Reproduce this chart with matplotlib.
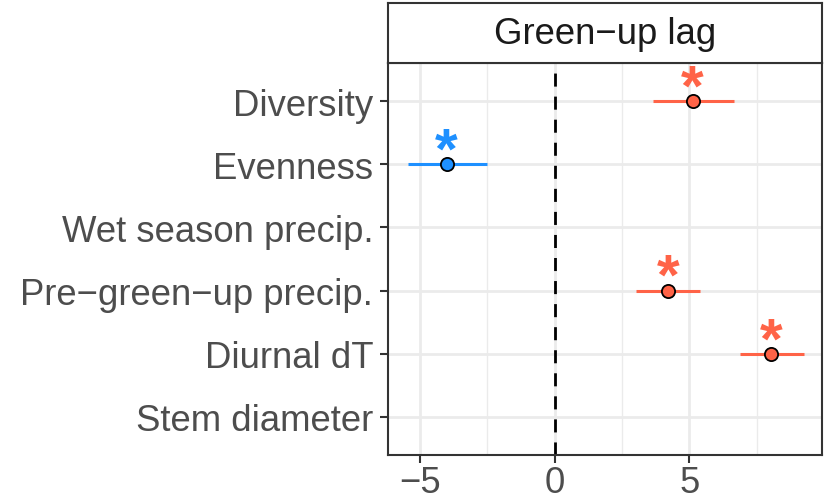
import matplotlib.pyplot as plt

plt.rcParams['font.family'] = ['Liberation Sans', 'DejaVu Sans']

# coefficient estimates for green-up lag, top to bottom
predictors = ['Diversity', 'Evenness', 'Wet season precip.',
              'Pre\u2212green\u2212up precip.', 'Diurnal dT', 'Stem diameter']
estimate = [5.12, -4.01, None, 4.21, 8.04, None]
lower = [3.64, -5.46, None, 3.01, 6.88, None]
upper = [6.66, -2.53, None, 5.40, 9.26, None]
significant = [True, True, False, True, True, False]

POS_COL = '#FF6347'
NEG_COL = '#1E90FF'
W, H = 833, 502

fig = plt.figure(figsize=(W / 100, H / 100), dpi=100)
ax = fig.add_axes([388.3 / W, 1 - 455.7 / H, (822.3 - 388.3) / W, (455.7 - 64.3) / H])
strip = fig.add_axes([388.3 / W, 1 - 64.3 / H, (822.3 - 388.3) / W, (64.3 - 4) / H])

n = len(predictors)
ypos = list(range(n))[::-1]

ax.set_xlim(-6.18, 9.94)
ax.set_ylim(-0.6, n - 1 + 0.6)

# grid, theme_bw style
for v in [-2.5, 2.5, 7.5]:
    ax.axvline(v, color='#EBEBEB', lw=1.0, zorder=0)
for v in [-5, 0, 5]:
    ax.axvline(v, color='#EBEBEB', lw=2.0, zorder=0)
for y in ypos:
    ax.axhline(y, color='#EBEBEB', lw=2.0, zorder=0)

ax.axvline(0, color='black', lw=2.0, dashes=(4.7, 3.6), zorder=1)

for y, est, lo, hi, sig in zip(ypos, estimate, lower, upper, significant):
    if est is None:
        continue
    col = POS_COL if est > 0 else NEG_COL
    ax.plot([lo, hi], [y, y], color=col, lw=2.2, solid_capstyle='butt', zorder=2)
    ax.plot(est, y, 'o', ms=9.5, mfc=col, mec='black', mew=1.3, zorder=3)
    if sig:
        ax.annotate('*', (est, y), xytext=(0, -2.5), textcoords='offset points',
                    ha='center', va='baseline', fontsize=42, fontweight='bold',
                    color=col, zorder=4)

ax.set_xticks([-5, 0, 5])
ax.set_xticklabels(['\u22125', '0', '5'])
ax.set_yticks(ypos)
ax.set_yticklabels(predictors)
ax.tick_params(axis='both', length=5.8, width=1.5, color='#333333',
               labelcolor='#4D4D4D', labelsize=26.3)
ax.tick_params(axis='y', pad=5)
ax.tick_params(axis='x', pad=1.5)
for s in ax.spines.values():
    s.set_color('#333333')
    s.set_linewidth(1.5)

strip.set_xticks([])
strip.set_yticks([])
for s in strip.spines.values():
    s.set_color('#333333')
    s.set_linewidth(1.5)
strip.text(0.5, 0.5, 'Green\u2212up lag', ha='center', va='center',
           fontsize=26.3, color='#1A1A1A', transform=strip.transAxes)

fig.savefig('out.png', dpi=100)
